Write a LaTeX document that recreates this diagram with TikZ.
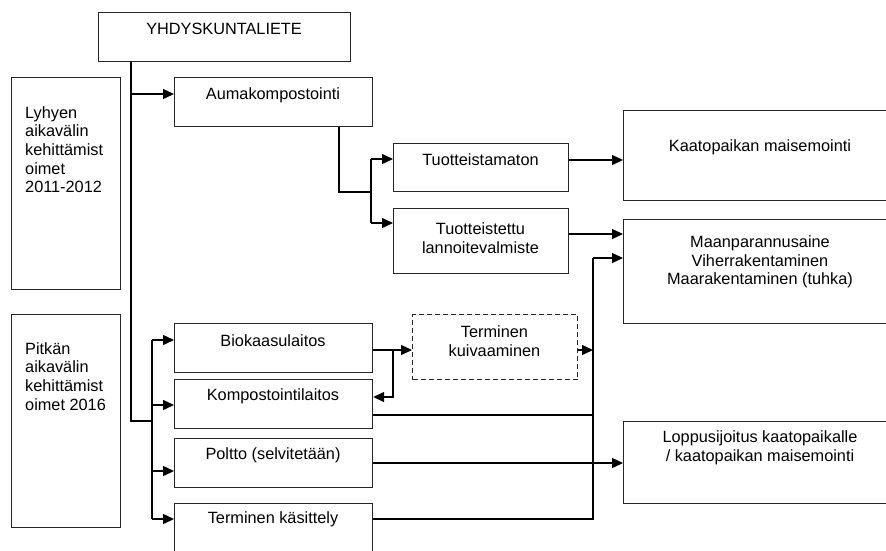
\documentclass[tikz,border=0pt]{standalone}
\usepackage{fontspec}
\setmainfont{Liberation Sans}
\usetikzlibrary{arrows.meta}
\begin{document}
\begin{tikzpicture}[x=1pt,y=-1pt,
  box/.style={draw=black!85, line width=1.2pt, anchor=north west, inner sep=0pt},
  dbox/.style={box, dashed, dash pattern=on 5pt off 3pt},
  lbl/.style={inner sep=0pt, align=center, font=\fontsize{16.3}{18.7}\selectfont},
  llbl/.style={lbl, align=left, anchor=north west},
  wire/.style={line width=1.4pt},
  arr/.style={wire, -{Triangle[length=11pt,width=10pt]}}]
\useasboundingbox (0,0) rectangle (886,550);
\clip (0,0) rectangle (886,550);
% boxes: corner and size
\newcommand{\mybox}[6][box]{\node[#1, minimum width=#5, minimum height=#6] (#2) at (#3,#4) {};}
\mybox{yhd}{98}{12}{252}{49}
\mybox{lyh}{11}{77}{109}{212}
\mybox{pit}{11}{314}{109}{213}
\mybox{auma}{174}{77}{198}{49}
\mybox{tuo1}{393}{143}{175}{48}
\mybox{tuo2}{393}{208}{175}{65}
\mybox{kaa}{623}{110}{274}{90}
\mybox{maan}{623}{219}{274}{104}
\mybox{bio}{174}{323}{198}{49}
\mybox{komp}{174}{379}{198}{49}
\mybox{polt}{174}{438}{198}{49}
\mybox{term}{174}{503}{198}{60}
\mybox[dbox]{kuiv}{412}{314}{165}{65}
\mybox{lop}{623}{421}{274}{82}
% texts
\node[lbl] (yhd-t) at (224,29) {YHDYSKUNTALIETE};
\node[llbl] (lyh-t) at (25,106) {Lyhyen\\aikavälin\\kehittämist\\oimet\\2011-2012};
\node[llbl] (pit-t) at (25,342) {Pitkän\\aikavälin\\kehittämist\\oimet 2016};
\node[lbl] (auma-t) at (273,95) {Aumakompostointi};
\node[lbl] (tuo1-t) at (480.5,160) {Tuotteistamaton};
\node[lbl] (tuo2-t) at (480.5,238) {Tuotteistettu\\lannoitevalmiste};
\node[lbl] (kaa-t) at (760,147) {Kaatopaikan maisemointi};
\node[lbl] (maan-t) at (760,262) {Maanparannusaine\\Viherrakentaminen\\Maarakentaminen (tuhka)};
\node[lbl] (bio-t) at (273,341) {Biokaasulaitos};
\node[lbl] (komp-t) at (273,396) {Kompostointilaitos};
\node[lbl] (polt-t) at (273,455) {Poltto (selvitetään)};
\node[lbl] (term-t) at (273,519) {Terminen käsittely};
\node[lbl] (kuiv-t) at (494.5,341) {Terminen\\kuivaaminen};
\node[lbl] (lop-t) at (760,448) {Loppusijoitus kaatopaikalle\\/ kaatopaikan maisemointi};
% junction points of the connectors
\coordinate (trunk) at (131,421);
\coordinate (fork) at (152,421);
\coordinate (aumaDown) at (339,192);
\coordinate (tuoFork) at (371,192);
\coordinate (bioFork) at (393,350);
\coordinate (collect) at (593,258);
% main trunk
\draw[wire] (yhd.south -| trunk) -- (trunk) -- (fork);
\draw[arr] (trunk |- 0,94) -- (auma.west |- 0,94);
% long-term branches
\draw[wire] (fork |- 0,340) -- (fork |- 0,519);
\draw[arr] (fork |- 0,340) -- (bio.west |- 0,340);
\draw[arr] (fork |- 0,405) -- (komp.west |- 0,405);
\draw[arr] (fork |- 0,471) -- (polt.west |- 0,471);
\draw[arr] (fork |- 0,519) -- (term.west |- 0,519);
% windrow composting outputs
\draw[wire] (auma.south -| aumaDown) -- (aumaDown) -- (tuoFork);
\draw[wire] (tuoFork |- 0,159) -- (tuoFork |- 0,223);
\draw[arr] (tuoFork |- 0,159) -- (tuo1.west |- 0,159);
\draw[arr] (tuoFork |- 0,223) -- (tuo2.west |- 0,223);
\draw[arr] (tuo1.east |- 0,160) -- (kaa.west |- 0,160);
\draw[arr] (tuo2.east |- 0,234) -- (maan.west |- 0,234);
% biogas plant outputs
\draw[arr] (bio.east |- bioFork) -- (kuiv.west |- bioFork);
\draw[arr] (bioFork) -- (bioFork |- 0,397) -- (komp.east |- 0,397);
\draw[arr] (kuiv.east |- 0,350) -- (collect |- 0,350);
% collector line to soil improvement uses
\draw[wire] (komp.east |- 0,415) -- (collect |- 0,415);
\draw[wire] (term.east |- 0,519) -- (collect |- 0,519) -- (collect);
\draw[arr] (collect) -- (maan.west |- collect);
% incineration to final disposal
\draw[arr] (polt.east |- 0,463) -- (lop.west |- 0,463);
\end{tikzpicture}
\end{document}
